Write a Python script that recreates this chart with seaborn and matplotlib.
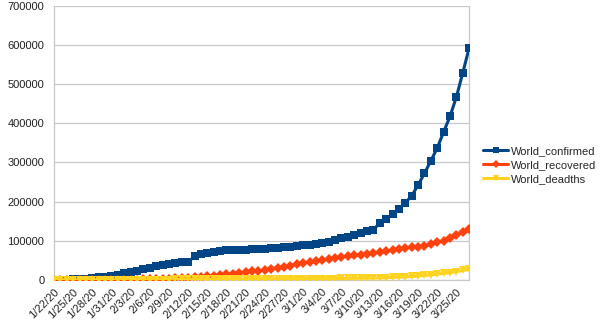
import numpy as np
import pandas as pd
import matplotlib
matplotlib.use("Agg")
import matplotlib.pyplot as plt
import seaborn as sns

dates = pd.date_range("2020-01-22", "2020-03-27", freq="D")
date_labels = [f"{d.month}/{d.day}/20" for d in dates]

world_confirmed = [
    555, 654, 941, 1434, 2118, 2927, 5578, 6166, 8234, 9927,
    12038, 16787, 19881, 23892, 27635, 30794, 34391, 37120, 40150, 42762,
    44802, 45221, 60368, 66885, 69030, 71224, 73258, 75136, 75639, 76197,
    76819, 78572, 78958, 79561, 80406, 81388, 82746, 84112, 86011, 88369,
    90306, 92840, 95120, 97886, 101801, 105847, 109821, 113590, 118620, 125875,
    128352, 145205, 156101, 167454, 181574, 197102, 214821, 242570, 272208, 304507,
    336953, 378231, 418041, 467653, 529591, 593291,
]
world_recovered = [
    28, 30, 36, 39, 52, 61, 107, 126, 143, 222,
    284, 472, 623, 852, 1124, 1487, 2011, 2616, 3244, 3946,
    4683, 5150, 6295, 8058, 9395, 10865, 12583, 14352, 16121, 18177,
    18890, 22886, 23394, 25227, 27905, 30384, 33277, 36711, 39782, 42716,
    45602, 48228, 51170, 53796, 55865, 58358, 60694, 62494, 64404, 67003,
    68324, 70251, 72624, 76034, 78088, 80840, 83207, 84854, 87256, 91499,
    97704, 98296, 107741, 113655, 122149, 130915,
]
world_deaths = [
    17, 18, 26, 42, 56, 82, 131, 133, 171, 213,
    259, 362, 426, 492, 564, 634, 719, 806, 906, 1013,
    1113, 1118, 1371, 1523, 1666, 1770, 1868, 2007, 2122, 2247,
    2251, 2458, 2469, 2629, 2708, 2770, 2814, 2872, 2941, 2996,
    3085, 3160, 3254, 3348, 3460, 3558, 3802, 3988, 4262, 4615,
    4720, 5404, 5819, 6440, 7126, 7905, 8733, 9867, 11299, 12973,
    14623, 16497, 18615, 21181, 23970, 27198,
]

series_names = ["World_confirmed", "World_recovered", "World_deadths"]
series_values = [world_confirmed, world_recovered, world_deaths]
colors = ["#004586", "#ff420e", "#ffd320"]
markers = ["s", "D", "v"]
msizes = [6.0, 4.8, 6.0]

idx = np.arange(len(date_labels))
df = pd.concat(
    [pd.DataFrame({"day": idx, "value": v, "series": n})
     for n, v in zip(series_names, series_values)],
    ignore_index=True,
)

sns.set_theme(style="white")
plt.rcParams["font.family"] = ["Liberation Sans", "DejaVu Sans"]

fig = plt.figure(figsize=(6.0, 3.32), dpi=100)
ax = fig.add_axes([0.09, 0.157, 0.692, 0.825])

grid_c = "#c8c8c8"
txt_c = "#222222"
for name, col, mk, ms in zip(series_names, colors, markers, msizes):
    sns.lineplot(data=df[df["series"] == name], x="day", y="value",
                 color=col, marker=mk, markersize=ms, markeredgewidth=0,
                 linewidth=2.2, ax=ax, label=name, zorder=3)

ax.set_xlim(0, len(idx) - 1)
ax.set_ylim(0, 700000)
yt = np.arange(0, 700001, 100000)
ax.set_yticks(yt)
ax.set_yticklabels([f"{int(v)}" for v in yt], fontsize=8, color=txt_c)
ax.yaxis.grid(True, color=grid_c, linewidth=0.9)
ax.set_axisbelow(True)

ax.set_xticks(idx, minor=True)
ax.set_xticks(idx[::3])
ax.set_xticklabels(date_labels[::3], rotation=45, ha="right",
                   rotation_mode="anchor", fontsize=8, color=txt_c)
ax.tick_params(axis="x", which="both", length=3, color=grid_c, width=0.9, pad=2)
ax.tick_params(axis="y", length=3, color=grid_c, width=0.9, pad=4)
ax.set_xlabel("")
ax.set_ylabel("")

for side in ["left", "right", "bottom"]:
    ax.spines[side].set_color(grid_c)
    ax.spines[side].set_linewidth(0.9)
ax.spines["top"].set_visible(False)

ax.legend(loc="center left", bbox_to_anchor=(1.01, 0.42), frameon=False,
          fontsize=8, handlelength=2.2, handletextpad=0.3, labelspacing=0.35,
          markerscale=0.8)

fig.savefig("out.png", dpi=100)
